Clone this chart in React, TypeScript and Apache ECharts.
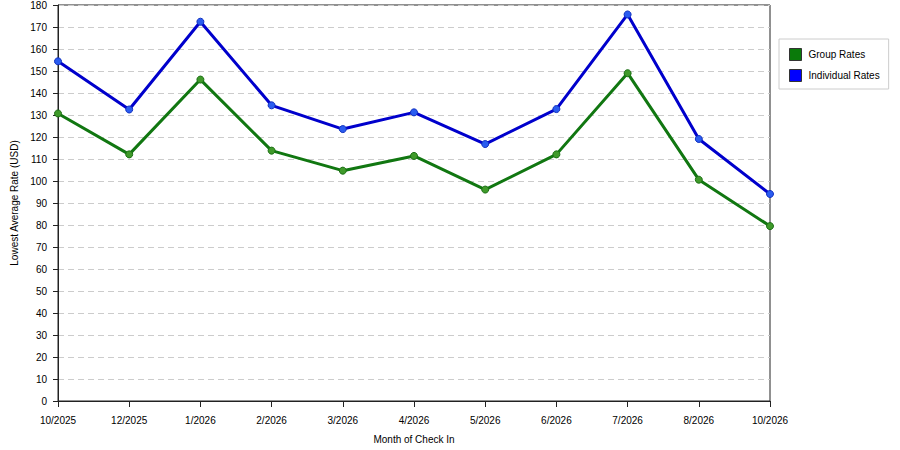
import * as echarts from 'echarts'
import { useEffect, useRef } from 'react'

const months = ['10/2025', '12/2025', '1/2026', '2/2026', '3/2026', '4/2026', '5/2026', '6/2026', '7/2026', '8/2026', '10/2026']
const groupRates = [130.7, 112.1, 146.1, 113.8, 104.7, 111.4, 96.1, 112.1, 149, 100.6, 79.5]
const individualRates = [154.4, 132.5, 172.4, 134.4, 123.6, 131.2, 116.8, 132.7, 175.7, 119.1, 94.1]

const font = 'Liberation Sans, Arial, sans-serif'

export default function App() {
  const chartRef = useRef<HTMLDivElement>(null)

  useEffect(() => {
    document.body.style.margin = '0'
    const element = chartRef.current
    if (!element) return
    const instance = echarts.init(element, null, { renderer: 'svg' })
    instance.setOption({
      animation: false,
      backgroundColor: '#fff',
      textStyle: { fontFamily: font },
      grid: {
        left: 58,
        right: 130,
        top: 4,
        bottom: 49,
        show: true,
        borderColor: '#222',
        borderWidth: 1,
      },
      legend: {
        orient: 'vertical',
        left: 779,
        top: 39,
        padding: [9, 9, 7, 10],
        backgroundColor: '#fff',
        borderColor: '#ccc',
        borderWidth: 1,
        itemWidth: 12,
        itemHeight: 12,
        itemGap: 8,
        icon: 'rect',
        textStyle: { fontFamily: font, fontSize: 10, color: '#000', padding: [0, 0, 0, 2] },
        data: [
          { name: 'Group Rates', itemStyle: { color: '#0a7a0a', borderColor: '#333', borderWidth: 1 } },
          { name: 'Individual Rates', itemStyle: { color: '#0000ff', borderColor: '#333', borderWidth: 1 } },
        ],
      },
      xAxis: {
        type: 'category',
        data: months,
        boundaryGap: false,
        name: 'Month of Check In',
        nameLocation: 'middle',
        nameGap: 33,
        nameTextStyle: { fontFamily: font, fontSize: 10, color: '#000' },
        axisLine: { lineStyle: { color: '#222', width: 1 } },
        axisTick: { length: 6, lineStyle: { color: '#222' } },
        axisLabel: { fontFamily: font, fontSize: 10, color: '#000', margin: 14, showMinLabel: true, showMaxLabel: true, interval: 0 },
        splitLine: { show: false },
      },
      yAxis: {
        type: 'value',
        min: 0,
        max: 180,
        interval: 10,
        name: 'Lowest Average Rate (USD)',
        nameLocation: 'middle',
        nameGap: 32,
        nameTextStyle: { fontFamily: font, fontSize: 10, color: '#000' },
        axisLine: { show: true, lineStyle: { color: '#222', width: 1 } },
        axisTick: { show: true, length: 5, lineStyle: { color: '#222' } },
        axisLabel: { fontFamily: font, fontSize: 10, color: '#000', margin: 11 },
        splitLine: { lineStyle: { color: '#ccc', type: [6, 4], width: 1 } },
      },
      series: [
        {
          name: 'Group Rates',
          type: 'line',
          data: groupRates,
          symbol: 'circle',
          symbolSize: 7,
          lineStyle: { color: '#117711', width: 3 },
          itemStyle: { color: '#3f9a2a', borderColor: '#1b6f14', borderWidth: 1 },
          z: 2,
        },
        {
          name: 'Individual Rates',
          type: 'line',
          data: individualRates,
          symbol: 'circle',
          symbolSize: 7,
          lineStyle: { color: '#0000cc', width: 3 },
          itemStyle: { color: '#2a5cf0', borderColor: '#1030c0', borderWidth: 1 },
          z: 3,
        },
      ],
    })
    return () => instance.dispose()
  }, [])

  return <div ref={chartRef} style={{ width: 900, height: 450 }} />
}
